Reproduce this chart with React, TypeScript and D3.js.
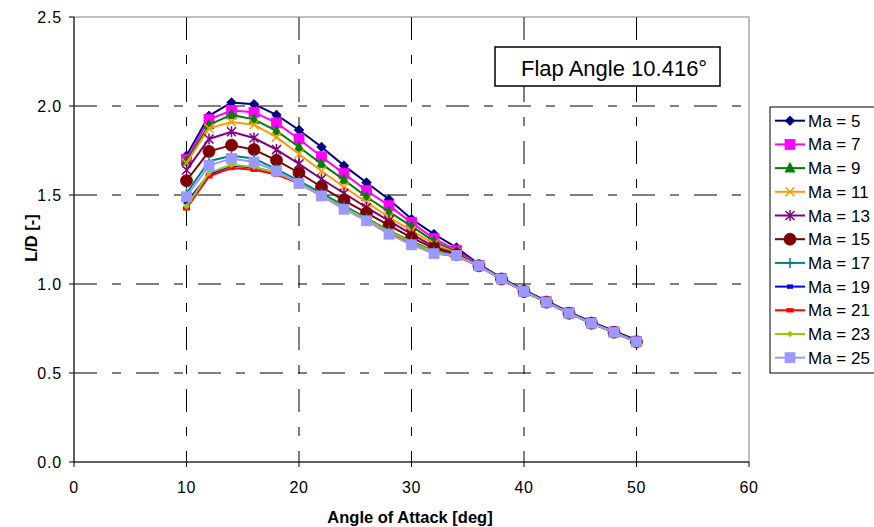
import React from "react";
import * as d3 from "d3";

const angles = [10, 12, 14, 16, 18, 20, 22, 24, 26, 28, 30, 32, 34, 36, 38, 40, 42, 44, 46, 48, 50];
const seriesNames = ["Ma = 5", "Ma = 7", "Ma = 9", "Ma = 11", "Ma = 13", "Ma = 15", "Ma = 17", "Ma = 19", "Ma = 21", "Ma = 23", "Ma = 25"];
const ma5 = [1.72, 1.945, 2.02, 2.01, 1.95, 1.865, 1.77, 1.665, 1.57, 1.475, 1.365, 1.28, 1.205, 1.11, 1.035, 0.965, 0.905, 0.843, 0.787, 0.736, 0.684];
const ma7 = [1.70, 1.925, 1.975, 1.965, 1.905, 1.815, 1.715, 1.62, 1.525, 1.44, 1.345, 1.255, 1.19, 1.105, 1.03, 0.96, 0.9, 0.838, 0.782, 0.731, 0.678];
const ma9 = [1.69, 1.895, 1.95, 1.925, 1.86, 1.77, 1.675, 1.585, 1.49, 1.405, 1.325, 1.24, 1.18, 1.102, 1.028, 0.958, 0.898, 0.836, 0.78, 0.729, 0.675];
const ma11 = [1.68, 1.875, 1.91, 1.895, 1.825, 1.73, 1.635, 1.545, 1.46, 1.375, 1.30, 1.225, 1.175, 1.102, 1.028, 0.958, 0.898, 0.836, 0.78, 0.729, 0.675];
const ma13 = [1.64, 1.815, 1.855, 1.82, 1.755, 1.675, 1.59, 1.51, 1.43, 1.355, 1.28, 1.21, 1.17, 1.102, 1.028, 0.958, 0.898, 0.836, 0.78, 0.729, 0.675];
const ma15 = [1.58, 1.745, 1.78, 1.755, 1.695, 1.625, 1.545, 1.47, 1.40, 1.33, 1.26, 1.2, 1.165, 1.102, 1.028, 0.958, 0.898, 0.836, 0.78, 0.729, 0.675];
const ma17 = [1.51, 1.69, 1.72, 1.705, 1.645, 1.58, 1.51, 1.44, 1.37, 1.30, 1.24, 1.185, 1.16, 1.102, 1.028, 0.958, 0.898, 0.836, 0.78, 0.729, 0.675];
const ma19 = [1.46, 1.615, 1.665, 1.655, 1.625, 1.57, 1.50, 1.43, 1.365, 1.295, 1.235, 1.18, 1.16, 1.102, 1.028, 0.958, 0.898, 0.836, 0.78, 0.729, 0.675];
const ma21 = [1.425, 1.605, 1.652, 1.642, 1.615, 1.565, 1.495, 1.425, 1.36, 1.29, 1.23, 1.175, 1.155, 1.102, 1.028, 0.958, 0.898, 0.836, 0.78, 0.729, 0.675];
const ma23 = [1.436, 1.625, 1.67, 1.658, 1.625, 1.57, 1.50, 1.43, 1.365, 1.295, 1.235, 1.18, 1.16, 1.102, 1.028, 0.958, 0.898, 0.836, 0.78, 0.729, 0.675];
const ma25 = [1.49, 1.665, 1.705, 1.685, 1.635, 1.565, 1.495, 1.42, 1.355, 1.28, 1.22, 1.17, 1.16, 1.102, 1.028, 0.958, 0.898, 0.836, 0.78, 0.729, 0.675];
const seriesValues = [ma5, ma7, ma9, ma11, ma13, ma15, ma17, ma19, ma21, ma23, ma25];
const seriesColors = ["#000080", "#FF00FF", "#008000", "#FF9900", "#800080", "#800000", "#008080", "#0000FF", "#FF0000", "#99CC00", "#9999FF"];
const seriesMarkers = ["diamond", "square", "triangle", "x", "star", "circle", "plus", "smallsq", "smallrect", "smalldiamond", "square"];
const xTicks = [0, 10, 20, 30, 40, 50, 60];
const yTicks = [0, 0.5, 1.0, 1.5, 2.0, 2.5];
const xTitle = "Angle of Attack [deg]";
const yTitle = "L/D [-]";
const boxText = "Flap Angle 10.416°";

const W = 874, H = 527;
const left = 74, right = 749, top = 17, bottom = 462;
const FONT = "'Liberation Sans', Arial, sans-serif";

function Marker({ type, color, x, y }: { type: string; color: string; x: number; y: number }) {
  const t = `translate(${x},${y})`;
  switch (type) {
    case "diamond":
      return <path transform={t} d="M0,-4.8L4.8,0L0,4.8L-4.8,0Z" fill={color} stroke={color} strokeWidth={0.8} />;
    case "square":
      return <rect transform={t} x={-5} y={-5} width={10} height={10} fill={color} stroke={color} strokeWidth={0.8} />;
    case "triangle":
      return <path transform={t} d="M0,-5.5L5,4L-5,4Z" fill={color} stroke={color} strokeWidth={0.8} />;
    case "x":
      return <path transform={t} d="M-4.5,-4.5L4.5,4.5M-4.5,4.5L4.5,-4.5" stroke={color} strokeWidth={1.5} fill="none" />;
    case "star":
      return <path transform={t} d="M-4.5,-4.5L4.5,4.5M-4.5,4.5L4.5,-4.5M0,-5.5L0,5.5" stroke={color} strokeWidth={1.5} fill="none" />;
    case "circle":
      return <circle transform={t} r={6} fill={color} stroke={color} strokeWidth={0.8} />;
    case "plus":
      return <path transform={t} d="M-5,0L5,0M0,-5L0,5" stroke={color} strokeWidth={1.5} fill="none" />;
    case "smallsq":
      return <rect transform={t} x={-3} y={-2.2} width={6} height={4.4} fill={color} />;
    case "smallrect":
      return <rect transform={t} x={-3.6} y={-2.2} width={7.2} height={4.4} fill={color} />;
    case "smalldiamond":
      return <path transform={t} d="M0,-3.2L3.2,0L0,3.2L-3.2,0Z" fill={color} />;
    default:
      return null;
  }
}

export default function App() {
  const x = d3.scaleLinear().domain([0, 60]).range([left, right]);
  const y = d3.scaleLinear().domain([0, 2.5]).range([bottom, top]);
  const line = d3.line<number>().x((_, i) => x(angles[i])).y((d) => y(d));
  const dash = "23,15,9,15";

  return (
    <svg width={W} height={H} style={{ position: "absolute", left: 0, top: 0, background: "#fff" }} fontFamily={FONT}>
      <rect x={0} y={0} width={W} height={H} fill="#fff" />
      {/* grid */}
      {yTicks.filter((v) => v > 0 && v < 2.5).map((v) => (
        <line key={"gy" + v} x1={left} x2={right} y1={y(v)} y2={y(v)} stroke="#000" strokeWidth={1} strokeDasharray={dash} />
      ))}
      {xTicks.filter((v) => v > 0 && v < 60).map((v) => (
        <line key={"gx" + v} x1={x(v)} x2={x(v)} y1={top} y2={bottom} stroke="#000" strokeWidth={1} strokeDasharray={dash} />
      ))}
      {/* plot border */}
      <rect x={left} y={top} width={right - left} height={bottom - top} fill="none" stroke="#808080" strokeWidth={1} />
      {/* axes */}
      <line x1={left} x2={left} y1={top} y2={bottom} stroke="#000" strokeWidth={1} />
      <line x1={left} x2={right} y1={bottom} y2={bottom} stroke="#000" strokeWidth={1} />
      {yTicks.map((v) => (
        <g key={"yt" + v}>
          <line x1={left - 5} x2={left} y1={y(v)} y2={y(v)} stroke="#000" />
          <text x={62} y={y(v) + 6} textAnchor="end" fontSize={16} letterSpacing={0.8} fill="#000">{v.toFixed(1)}</text>
        </g>
      ))}
      {xTicks.map((v) => (
        <g key={"xt" + v}>
          <line x1={x(v)} x2={x(v)} y1={bottom} y2={bottom + 5} stroke="#000" />
          <text x={x(v)} y={493} textAnchor="middle" fontSize={16} letterSpacing={0.5} fill="#000">{v}</text>
        </g>
      ))}
      <text x={410} y={523} textAnchor="middle" fontSize={16.5} fontWeight="bold" fill="#000">{xTitle}</text>
      <text transform={`translate(37,238) rotate(-90)`} textAnchor="middle" fontSize={16.5} fontWeight="bold" fill="#000">{yTitle}</text>
      {/* series */}
      {seriesValues.map((vals, si) => (
        <g key={"s" + si}>
          <path d={line(vals) || ""} fill="none" stroke={seriesColors[si]} strokeWidth={2} />
          {vals.map((v, i) => (
            <Marker key={i} type={seriesMarkers[si]} color={seriesColors[si]} x={x(angles[i])} y={y(v)} />
          ))}
        </g>
      ))}
      {/* flap angle box */}
      <rect x={495} y={47} width={225} height={39} fill="#fff" stroke="#000" strokeWidth={1.5} />
      <text x={521} y={76} fontSize={22} fill="#000">{boxText}</text>
      {/* legend */}
      <rect x={770} y={107} width={110} height={266} fill="#fff" stroke="#000" strokeWidth={1} />
      {seriesNames.map((name, i) => {
        const ly = 120.7 + i * 23.7;
        return (
          <g key={"lg" + i}>
            <line x1={775} x2={805} y1={ly} y2={ly} stroke={seriesColors[i]} strokeWidth={2} />
            <Marker type={seriesMarkers[i]} color={seriesColors[i]} x={790} y={ly} />
            <text x={808} y={ly + 6} fontSize={17} fill="#000">{name}</text>
          </g>
        );
      })}
    </svg>
  );
}
